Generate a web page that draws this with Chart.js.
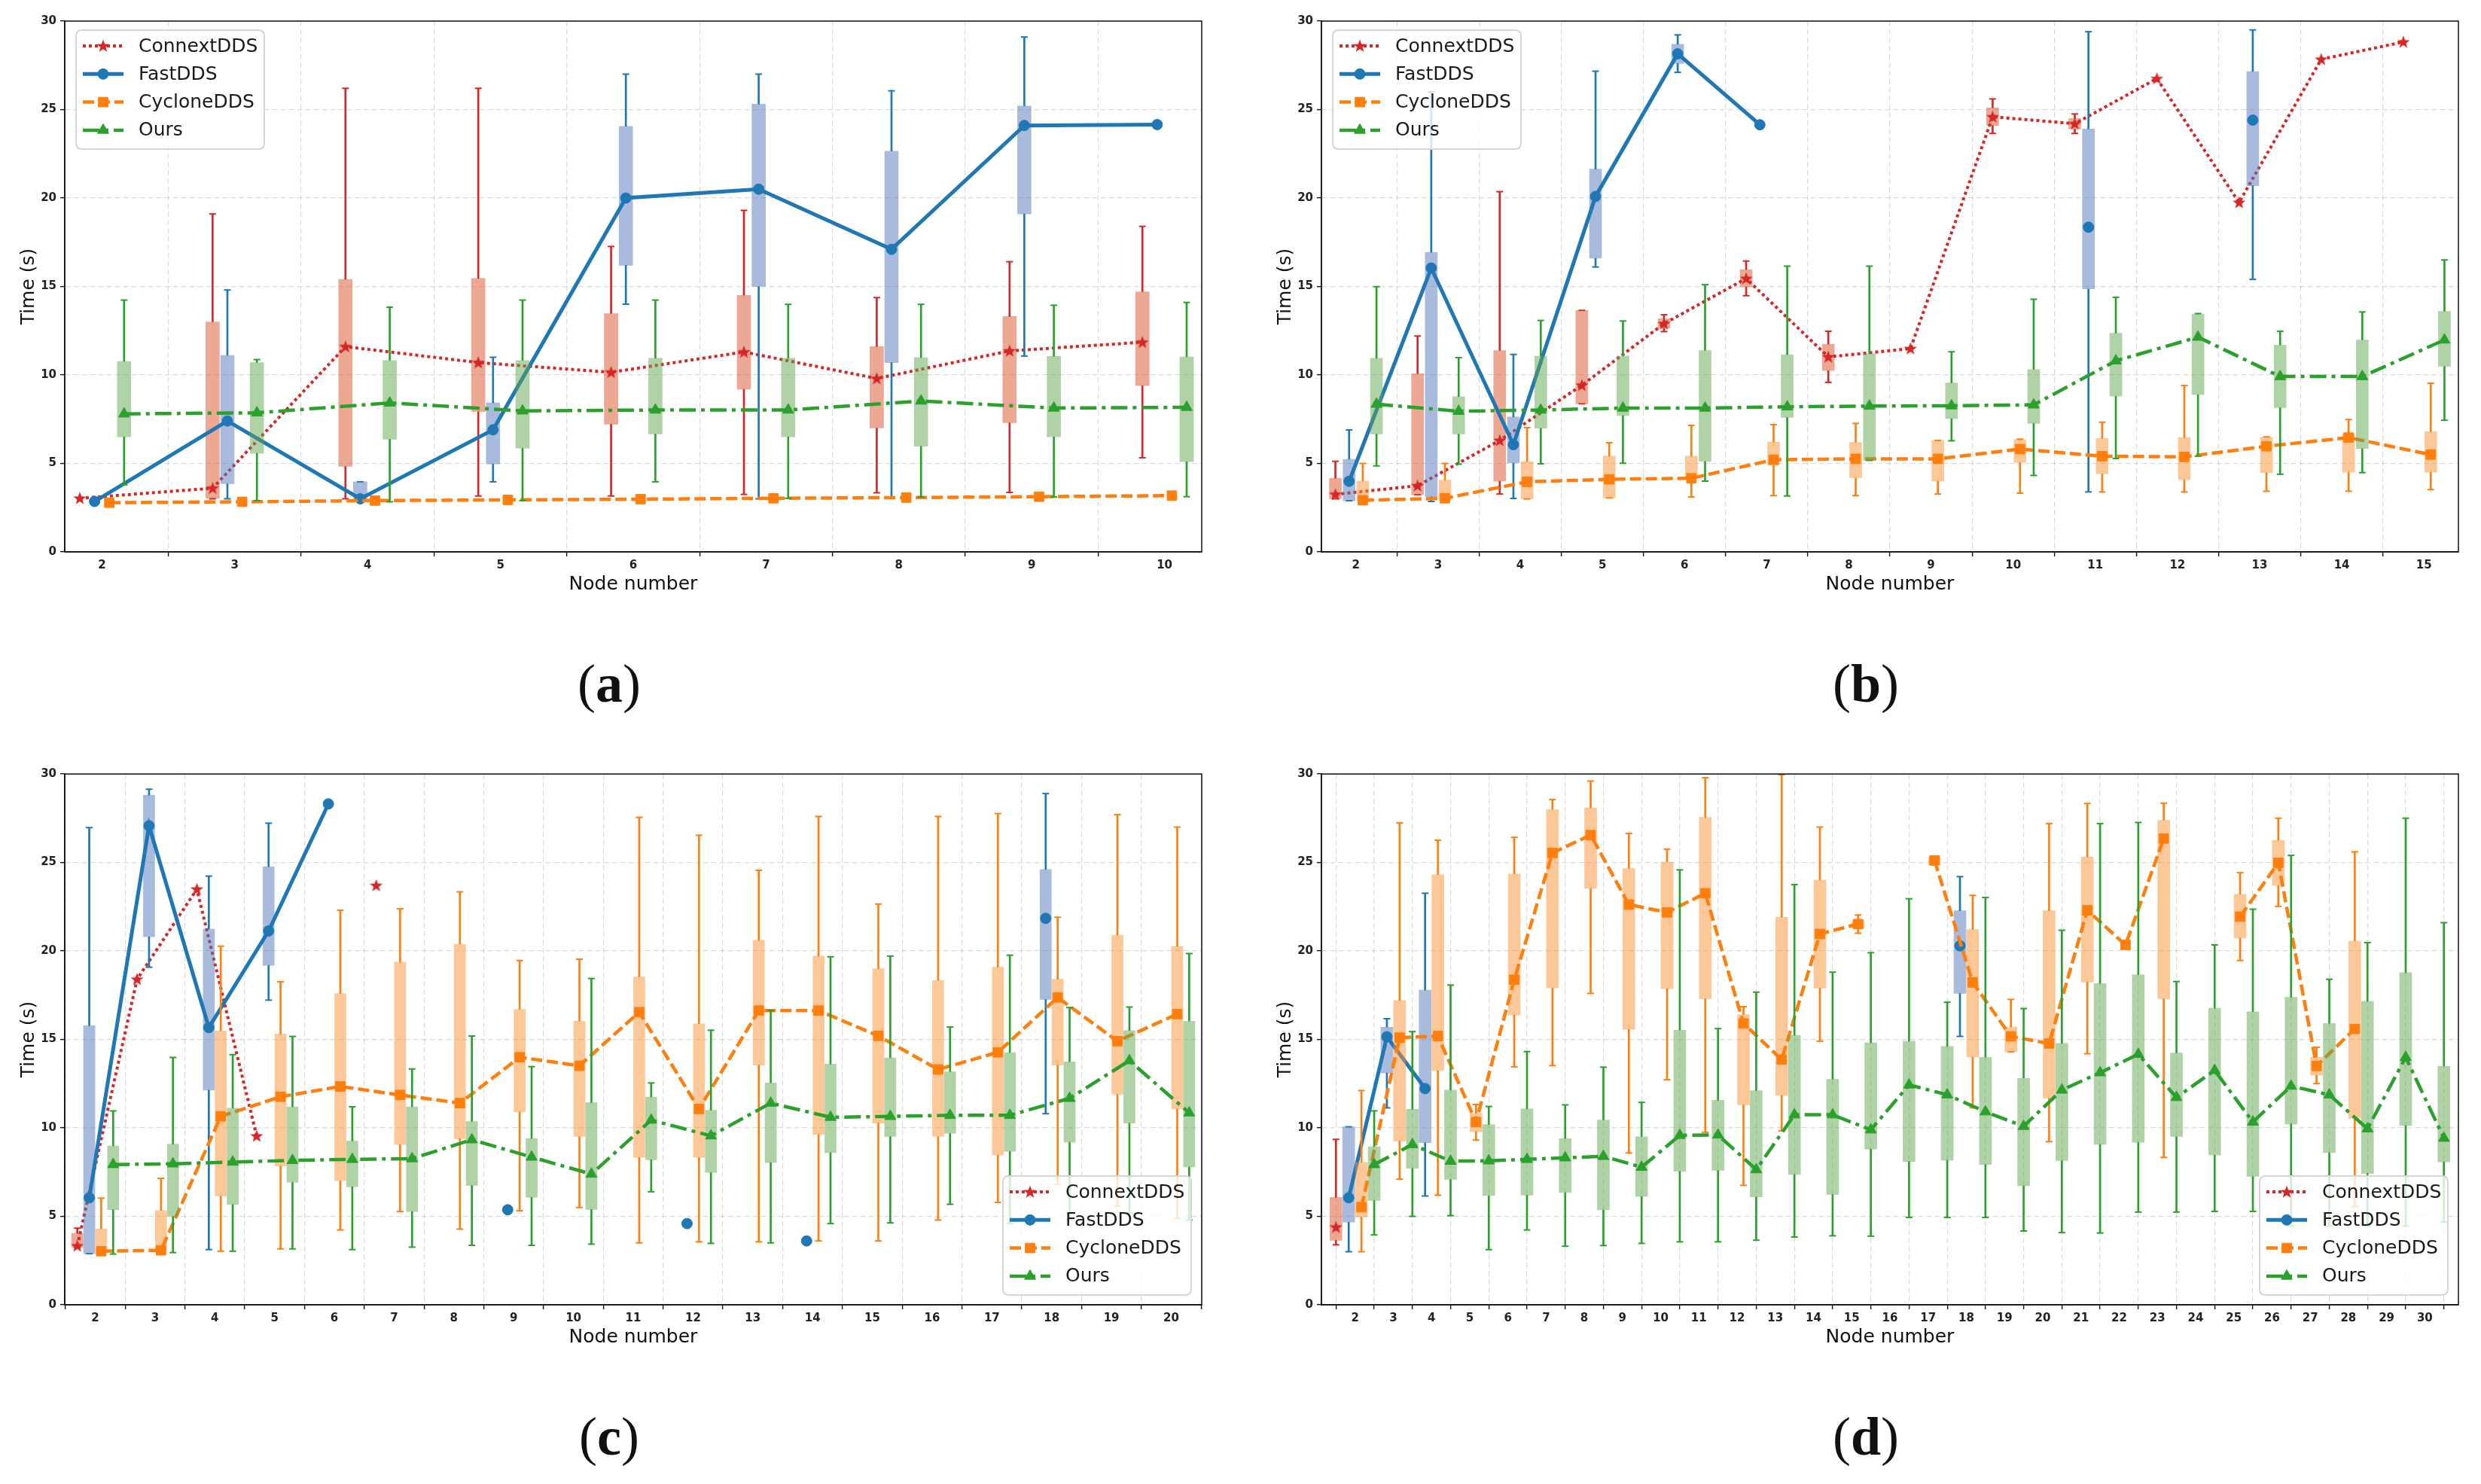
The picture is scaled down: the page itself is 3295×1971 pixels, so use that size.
<!DOCTYPE html>
<html>
<head>
<meta charset="utf-8">
<script src="https://cdn.jsdelivr.net/npm/chart.js@4.4.1/dist/chart.umd.min.js"></script>
<style>
html, body { margin: 0; padding: 0; background: #fff; overflow: hidden; }
body { width: 3295px; height: 1971px; position: relative; }
canvas.panel { position: absolute; }
.cap {
    position: absolute;
    transform: translateX(-50%);
    font-family: "Liberation Serif", serif;
    font-size: 72px;
    line-height: 72px;
    color: #111;
    white-space: nowrap;
}
</style>
</head>
<body>
<canvas id="chartA" class="panel" width="1620" height="830" style="left:0px;top:0px"></canvas>
<canvas id="chartB" class="panel" width="1620" height="830" style="left:1669px;top:0px"></canvas>
<canvas id="chartC" class="panel" width="1620" height="830" style="left:0px;top:1000px"></canvas>
<canvas id="chartD" class="panel" width="1620" height="830" style="left:1669px;top:1000px"></canvas>
<div class="cap" style="left:809px;top:872px">(<b>a</b>)</div>
<div class="cap" style="left:2478px;top:872px">(<b>b</b>)</div>
<div class="cap" style="left:809px;top:1872px">(<b>c</b>)</div>
<div class="cap" style="left:2478px;top:1872px">(<b>d</b>)</div>

<script>
/* datos: cada fila es [min, q1, mediana, q3, max]; null = sin dato */
var yTicks = [0, 5, 10, 15, 20, 25, 30];

var nodesA = [2, 3, 4, 5, 6, 7, 8, 9, 10];
var aConnext = [
    [null, null, 3.03, null, null],
    [3.0, 3.03, 3.6, 13.0, 19.1],
    [3.0, 4.83, 11.6, 15.4, 26.2],
    [3.16, 7.93, 10.7, 15.45, 26.2],
    [3.16, 7.22, 10.15, 13.47, 17.26],
    [3.25, 9.2, 11.3, 14.5, 19.3],
    [3.34, 7.0, 9.8, 11.6, 14.37],
    [3.36, 7.3, 11.36, 13.3, 16.4],
    [5.32, 9.4, 11.85, 14.7, 18.4]
];
var aFast = [
    [null, null, 2.85, null, null],
    [3.0, 3.85, 7.4, 11.1, 14.8],
    [3.0, 3.0, 3.0, 3.96, 3.96],
    [3.96, 4.97, 6.9, 8.42, 11.0],
    [14.0, 16.2, 20.0, 24.05, 27.0],
    [3.0, 15.0, 20.5, 25.3, 27.0],
    [3.1, 10.7, 17.1, 22.65, 26.06],
    [11.07, 19.1, 24.1, 25.2, 29.1],
    [null, null, 24.15, null, null]
];
var aCyclone = [
    [null, null, 2.78, null, null],
    [null, null, 2.83, null, null],
    [null, null, 2.9, null, null],
    [null, null, 2.94, null, null],
    [null, null, 2.98, null, null],
    [null, null, 3.03, null, null],
    [null, null, 3.07, null, null],
    [null, null, 3.12, null, null],
    [null, null, 3.18, null, null]
];
var aOurs = [
    [3.79, 6.5, 7.8, 10.76, 14.23],
    [2.9, 5.57, 7.86, 10.7, 10.87],
    [2.83, 6.37, 8.42, 10.82, 13.83],
    [2.9, 5.86, 7.97, 10.82, 14.23],
    [3.96, 6.66, 8.02, 10.94, 14.23],
    [3.03, 6.5, 8.02, 10.94, 13.99],
    [3.1, 5.97, 8.53, 10.98, 13.99],
    [3.1, 6.5, 8.13, 11.05, 13.94],
    [3.12, 5.1, 8.17, 11.02, 14.1]
];

var nodesB = [2, 3, 4, 5, 6, 7, 8, 9, 10, 11, 12, 13, 14, 15];
var bConnext = [
    [3.0, 3.0, 3.25, 4.16, 5.12],
    [3.23, 3.23, 3.74, 10.07, 12.2],
    [3.27, 4.0, 6.3, 11.38, 20.36],
    [8.37, 8.37, 9.42, 13.65, 13.65],
    [12.45, 12.65, 12.9, 13.18, 13.4],
    [14.48, 14.97, 15.45, 15.95, 16.44],
    [9.58, 10.25, 11.02, 11.74, 12.47],
    [null, null, 11.49, null, null],
    [23.65, 24.1, 24.59, 25.1, 25.6],
    [23.65, 23.9, 24.2, 24.5, 24.75],
    [null, null, 26.75, null, null],
    [null, null, 19.75, null, null],
    [null, null, 27.84, null, null],
    [null, null, 28.82, null, null]
];
var bFast = [
    [2.89, 2.89, 3.99, 5.23, 6.89],
    [2.85, 3.12, 16.04, 16.93, 26.0],
    [3.02, 5.02, 6.06, 7.62, 11.16],
    [16.1, 16.6, 20.09, 21.63, 27.17],
    [27.1, 27.6, 28.15, 28.69, 29.22],
    [null, null, 24.14, null, null],
    null,
    null,
    null,
    [3.39, 14.86, 18.35, 23.9, 29.4],
    null,
    [15.4, 20.7, 24.4, 27.15, 29.5],
    null,
    null
];
var bCyclone = [
    [2.9, 2.9, 2.92, 4.0, 5.0],
    [2.94, 2.94, 3.03, 4.06, 5.0],
    [2.99, 2.99, 3.96, 5.1, 7.02],
    [3.05, 3.05, 4.1, 5.41, 6.17],
    [3.1, 4.16, 4.16, 5.41, 7.15],
    [3.18, 4.9, 5.21, 6.21, 7.19],
    [3.18, 4.19, 5.26, 6.19, 7.26],
    [3.27, 4.0, 5.26, 6.3, 6.3],
    [3.32, 5.06, 5.81, 6.33, 6.37],
    [3.39, 4.41, 5.41, 6.41, 7.33],
    [3.39, 4.08, 5.37, 6.46, 9.4],
    [3.43, 4.48, 5.97, 6.48, 6.5],
    [3.43, 4.5, 6.46, 6.68, 7.48],
    [3.52, 4.5, 5.5, 6.79, 9.53]
];
var bOurs = [
    [4.86, 6.66, 8.35, 10.94, 14.99],
    [4.96, 6.66, 7.95, 8.77, 10.98],
    [4.98, 6.99, 8.02, 11.06, 13.08],
    [5.01, 7.71, 8.13, 11.07, 13.05],
    [4.0, 5.12, 8.13, 11.38, 15.1],
    [3.16, 7.6, 8.2, 11.14, 16.15],
    [5.17, 5.17, 8.24, 11.2, 16.15],
    [6.28, 7.53, 8.26, 9.55, 11.31],
    [4.32, 7.26, 8.31, 10.31, 14.28],
    [5.28, 8.8, 10.8, 12.36, 14.39],
    [5.41, 8.89, 12.14, 13.43, 13.47],
    [4.39, 8.15, 9.91, 11.69, 12.47],
    [4.48, 5.84, 9.91, 11.98, 13.56],
    [7.44, 10.49, 11.98, 13.59, 16.5]
];

var nodesC = [2, 3, 4, 5, 6, 7, 8, 9, 10, 11, 12, 13, 14, 15, 16, 17, 18, 19, 20];
var cConnext = [
    [3.24, 3.24, 3.33, 4.04, 4.33],
    [null, null, 18.4, null, null],
    [null, null, 23.49, null, null],
    [null, null, 9.54, null, null],
    null,
    [null, null, 23.7, null, null],
    null, null, null, null, null, null, null, null, null, null, null, null, null
];
var cFast = [
    [2.89, 2.89, 6.05, 15.77, 26.97],
    [19.08, 20.8, 27.07, 28.8, 29.14],
    [3.12, 12.13, 15.67, 21.23, 24.23],
    [17.22, 19.18, 21.13, 24.75, 27.22],
    [null, null, 28.31, null, null],
    null,
    null,
    [null, null, 5.37, null, null],
    null,
    null,
    [null, null, 4.59, null, null],
    null,
    [null, null, 3.61, null, null],
    null,
    null,
    null,
    [10.8, 17.26, 21.84, 24.6, 28.9],
    null,
    null
];
var cCyclone = [
    [2.89, 2.89, 3.03, 4.29, 6.03],
    [2.99, 2.99, 3.08, 5.33, 7.15],
    [3.03, 6.15, 10.65, 15.48, 20.27],
    [3.16, 7.84, 11.76, 15.3, 18.26],
    [4.23, 7.01, 12.34, 17.59, 22.3],
    [5.27, 9.06, 11.86, 19.37, 22.38],
    [4.28, 9.39, 11.4, 20.38, 23.34],
    [5.32, 10.91, 13.99, 16.7, 19.46],
    [5.5, 9.51, 13.51, 16.03, 19.53],
    [3.5, 8.33, 16.54, 18.53, 27.55],
    [3.56, 8.33, 11.07, 15.88, 26.54],
    [3.56, 13.55, 16.63, 20.6, 24.56],
    [3.61, 9.62, 16.63, 19.71, 27.6],
    [3.61, 10.27, 15.2, 19.0, 22.65],
    [4.79, 9.51, 13.3, 18.33, 27.6],
    [5.79, 8.47, 14.27, 19.08, 27.76],
    [6.8, 13.55, 17.37, 18.4, 21.9],
    [5.57, 11.9, 14.9, 20.89, 27.7],
    [4.88, 11.07, 16.43, 20.25, 27.0]
];
var cOurs = [
    [2.87, 5.38, 7.93, 8.98, 10.96],
    [2.95, 5.0, 7.97, 9.08, 13.98],
    [3.03, 5.67, 8.07, 11.11, 14.14],
    [3.16, 6.93, 8.16, 11.19, 15.17],
    [3.12, 6.67, 8.22, 9.25, 11.19],
    [3.26, 5.27, 8.26, 11.19, 13.33],
    [3.36, 6.75, 9.33, 10.36, 15.19],
    [3.36, 6.08, 8.35, 9.4, 13.46],
    [3.43, 5.39, 7.39, 11.42, 18.44],
    [6.39, 8.2, 10.44, 11.74, 12.54],
    [3.47, 7.48, 9.55, 11.0, 15.52],
    [3.5, 8.04, 11.4, 12.54, 16.63],
    [4.59, 8.6, 10.6, 13.6, 19.67],
    [4.63, 9.51, 10.65, 13.95, 19.71],
    [5.68, 9.69, 10.71, 13.17, 15.7],
    [4.6, 8.67, 10.71, 14.25, 19.76],
    [4.8, 9.19, 11.67, 13.73, 16.8],
    [5.19, 10.27, 13.8, 15.5, 16.83],
    [4.79, 7.79, 10.85, 16.03, 19.85]
];

var nodesD = [2, 3, 4, 5, 6, 7, 8, 9, 10, 11, 12, 13, 14, 15, 16, 17, 18, 19, 20,
              21, 22, 23, 24, 25, 26, 27, 28, 29, 30];
var dConnext = [
    [3.39, 3.64, 4.39, 6.07, 9.35],
    null, null, null, null, null, null, null, null, null, null, null, null, null, null,
    null, null, null, null, null, null, null, null, null, null, null, null, null, null
];
var dFast = [
    [3.0, 4.67, 6.05, 10.06, 10.06],
    [11.13, 13.1, 15.15, 15.69, 16.17],
    [6.15, 9.16, 12.22, 17.78, 23.26],
    null, null, null, null, null, null, null, null, null, null, null, null, null,
    [15.17, 17.6, 20.29, 22.27, 24.2],
    null, null, null, null, null, null, null, null, null, null, null, null
];
var dCyclone = [
    [3.0, 4.96, 5.52, 8.05, 12.11],
    [7.1, 9.25, 15.1, 17.2, 27.24],
    [6.19, 13.24, 15.19, 24.31, 26.26],
    [9.31, 9.79, 10.33, 10.82, 11.32],
    [13.45, 16.38, 18.37, 24.35, 26.42],
    [13.52, 17.91, 25.54, 27.99, 28.56],
    [17.6, 23.54, 26.55, 28.08, 29.6],
    [8.58, 15.57, 22.62, 24.65, 26.64],
    [12.72, 17.87, 22.18, 25.02, 25.75],
    [9.75, 17.3, 23.26, 27.55, 29.79],
    [6.75, 11.3, 15.9, 16.4, 16.85],
    [9.84, 11.83, 13.86, 21.9, 29.96],
    [14.9, 17.9, 20.96, 24.0, 27.0],
    [21.0, 21.27, 21.52, 21.7, 22.03],
    null,
    [24.85, 24.85, 25.12, 25.3, 25.3],
    [11.13, 14.0, 18.22, 21.21, 23.14],
    [14.3, 14.3, 15.17, 15.7, 17.26],
    [9.22, 11.67, 14.77, 22.27, 27.2],
    [14.19, 18.24, 22.3, 25.3, 28.33],
    [null, null, 20.34, null, null],
    [8.33, 17.3, 26.35, 27.38, 28.35],
    null,
    [19.46, 20.73, 21.94, 23.2, 24.42],
    [22.52, 23.7, 24.98, 26.25, 27.5],
    [12.5, 12.98, 13.5, 14.0, 14.55],
    [5.55, 10.54, 15.59, 20.55, 25.6],
    null,
    null
];
var dOurs = [
    [3.95, 5.9, 7.93, 8.93, 10.96],
    [5.0, 7.72, 9.06, 11.05, 15.44],
    [5.04, 7.09, 8.12, 12.13, 18.07],
    [3.12, 6.17, 8.14, 10.19, 11.21],
    [4.23, 6.2, 8.22, 11.07, 14.31],
    [3.31, 6.34, 8.31, 9.39, 11.3],
    [3.35, 5.36, 8.39, 10.44, 13.43],
    [3.47, 6.13, 7.78, 9.5, 11.44],
    [3.56, 7.55, 9.58, 15.52, 24.58],
    [3.56, 7.6, 9.6, 11.56, 15.61],
    [3.65, 6.1, 7.64, 12.1, 17.67],
    [3.83, 7.37, 10.74, 15.23, 23.75],
    [3.9, 6.24, 10.74, 12.74, 18.8],
    [3.88, 8.8, 9.89, 14.8, 19.9],
    [4.94, 8.1, 12.43, 14.9, 22.95],
    [4.94, 8.17, 11.87, 14.6, 17.1],
    [4.94, 7.93, 10.91, 13.99, 23.02],
    [4.17, 6.73, 10.09, 12.81, 16.74],
    [4.08, 8.15, 12.14, 14.77, 21.17],
    [4.06, 9.07, 13.12, 18.16, 27.2],
    [5.24, 9.18, 14.16, 18.66, 27.26],
    [5.24, 9.51, 11.72, 14.23, 18.27],
    [5.28, 8.47, 13.25, 16.76, 20.34],
    [5.28, 7.26, 10.33, 16.56, 22.36],
    [4.45, 10.22, 12.36, 17.38, 25.4],
    [4.45, 8.6, 11.87, 15.9, 18.4],
    [4.45, 7.42, 9.95, 17.15, 20.47],
    [4.45, 10.13, 13.99, 18.77, 27.5],
    [4.68, 8.08, 9.42, 13.49, 21.6]
];

/* estilos */
var FONT = "'DejaVu Sans', sans-serif";
Chart.defaults.font.family = FONT;

function starImage(color) {
    var c = document.createElement("canvas");
    c.width = 20;
    c.height = 20;
    var g = c.getContext("2d");
    g.fillStyle = color;
    g.beginPath();
    for (var i = 0; i < 10; i++) {
        var r = i % 2 === 0 ? 9 : 3.7;
        var a = -Math.PI / 2 + i * Math.PI / 5;
        var px = 10 + r * Math.cos(a), py = 10.5 + r * Math.sin(a);
        if (i === 0) g.moveTo(px, py); else g.lineTo(px, py);
    }
    g.closePath();
    g.fill();
    return c;
}

var SERIES = [
    {label: "ConnextDDS", color: "#d62728", box: "rgba(217, 81, 37, 0.5)",
     width: 4, dash: [4, 4], point: starImage("#d62728"), radius: 9},
    {label: "FastDDS", color: "#1f77b4", box: "rgba(81, 119, 187, 0.5)",
     width: 5, dash: [], point: "circle", radius: 7},
    {label: "CycloneDDS", color: "#ff7f0e", box: "rgba(251, 145, 49, 0.5)",
     width: 4.5, dash: [15, 6], point: "rect", radius: 9},
    {label: "Ours", color: "#2ca02c", box: "rgba(95, 165, 77, 0.5)",
     width: 4.5, dash: [22, 7, 5, 7], point: "triangle", radius: 8.5}
];

/* marco de los ejes */
var framePlugin = {
    id: "frame",
    afterDatasetsDraw: function (chart) {
        var a = chart.chartArea, ctx = chart.ctx;
        ctx.save();
        ctx.strokeStyle = "#111";
        ctx.lineWidth = 1.5;
        ctx.strokeRect(a.left, a.top, a.right - a.left, a.bottom - a.top);
        ctx.restore();
    }
};

/* leyenda dentro del área */
var legendPlugin = {
    id: "boxLegend",
    afterDraw: function (chart, args, opts) {
        var ctx = chart.ctx, a = chart.chartArea;
        var w = 250, h = 158;
        var x0 = opts.corner === "tl" ? a.left + 15 : a.right - 14 - w;
        var y0 = opts.corner === "tl" ? a.top + 12 : a.bottom - 13 - h;
        ctx.save();
        ctx.beginPath();
        var r = 8;
        ctx.moveTo(x0 + r, y0);
        ctx.lineTo(x0 + w - r, y0);
        ctx.quadraticCurveTo(x0 + w, y0, x0 + w, y0 + r);
        ctx.lineTo(x0 + w, y0 + h - r);
        ctx.quadraticCurveTo(x0 + w, y0 + h, x0 + w - r, y0 + h);
        ctx.lineTo(x0 + r, y0 + h);
        ctx.quadraticCurveTo(x0, y0 + h, x0, y0 + h - r);
        ctx.lineTo(x0, y0 + r);
        ctx.quadraticCurveTo(x0, y0, x0 + r, y0);
        ctx.closePath();
        ctx.fillStyle = "rgba(255, 255, 255, 0.8)";
        ctx.fill();
        ctx.strokeStyle = "#d6d6d6";
        ctx.lineWidth = 2;
        ctx.stroke();

        var lines = chart.data.datasets.filter(function (d) { return d.type === "line"; });
        lines.forEach(function (ds, i) {
            var y = y0 + 21 + i * 37.3;
            ctx.save();
            ctx.strokeStyle = ds.borderColor;
            ctx.lineWidth = ds.borderWidth;
            ctx.setLineDash(ds.borderDash);
            ctx.beginPath();
            ctx.moveTo(x0 + 9, y);
            ctx.lineTo(x0 + 63, y);
            ctx.stroke();
            ctx.restore();
            ctx.save();
            ctx.fillStyle = ds.borderColor;
            ctx.strokeStyle = ds.borderColor;
            ctx.lineWidth = 1;
            if (Chart.helpers && Chart.helpers.drawPoint) {
                Chart.helpers.drawPoint(ctx, {pointStyle: ds.pointStyle, radius: ds.pointRadius,
                    rotation: 0, borderWidth: 1}, x0 + 36, y);
            } else {
                ctx.beginPath();
                ctx.arc(x0 + 36, y, 7, 0, Math.PI * 2);
                ctx.fill();
            }
            ctx.restore();
            ctx.fillStyle = "#1a1a1a";
            ctx.font = "25px " + FONT;
            ctx.textBaseline = "middle";
            ctx.textAlign = "left";
            ctx.fillText(ds.label, x0 + 83, y + 1);
        });
        ctx.restore();
    }
};

function makePanel(id, nodes, rows, spacing, boxPx, xMin, xMax, corner) {
    var datasets = [];
    SERIES.forEach(function (s, i) {
        var off = (i - 1.5) * spacing;
        var whisk = [], caps = [], boxes = [], meds = [];
        nodes.forEach(function (n, j) {
            var r = rows[i][j];
            var x = n + off;
            if (!r) {
                meds.push({x: x, y: null});
                return;
            }
            meds.push({x: x, y: r[2]});
            if (r[0] === null) return;
            if (r[1] > r[0]) whisk.push({x: x, y: [r[0], r[1]]});
            if (r[4] > r[3]) whisk.push({x: x, y: [r[3], r[4]]});
            caps.push({x: x, y: r[0]});
            caps.push({x: x, y: r[4]});
            boxes.push({x: x, y: [r[1], r[3]]});
        });
        datasets.push({type: "bar", data: whisk, backgroundColor: s.color, borderWidth: 0,
            barThickness: 2, grouped: false});
        datasets.push({type: "scatter", data: caps, showLine: false, pointStyle: "line",
            pointRadius: 4.5, pointBorderColor: s.color, pointBorderWidth: 2});
        datasets.push({type: "bar", data: boxes, backgroundColor: s.box, borderWidth: 0,
            barThickness: boxPx, grouped: false});
        datasets.push({type: "line", label: s.label, data: meds, borderColor: s.color,
            borderWidth: s.width, borderDash: s.dash, spanGaps: false, tension: 0, fill: false,
            pointStyle: s.point, pointRadius: s.radius, pointBackgroundColor: s.color,
            pointBorderColor: s.color, pointBorderWidth: 1});
    });
    datasets.forEach(function (d, k) { d.order = datasets.length - k; });

    var config = {
        type: "scatter",
        data: {datasets: datasets},
        options: {
            responsive: false,
            animation: false,
            events: [],
            layout: {padding: {left: 0, right: 24, top: 28, bottom: 0}},
            plugins: {
                legend: {display: false},
                tooltip: {enabled: false},
                boxLegend: {corner: corner}
            },
            scales: {
                x: {
                    type: "linear",
                    min: xMin,
                    max: xMax,
                    offset: false,
                    afterBuildTicks: function (axis) {
                        axis.ticks = nodes.map(function (v) { return {value: v}; });
                    },
                    afterFit: function (axis) { axis.height = 97; },
                    grid: {color: "rgba(0, 0, 0, 0.14)", lineWidth: 1.2, tickLength: 6,
                           tickColor: "#111", tickWidth: 1.4},
                    border: {color: "#111", width: 1.5, dash: [7, 4]},
                    ticks: {font: {size: 15, weight: "bold"}, color: "#222", padding: 3,
                            autoSkip: false, maxRotation: 0},
                    title: {display: true, text: "Node number", font: {size: 25}, color: "#111",
                            padding: {top: 0, bottom: 39}}
                },
                y: {
                    type: "linear",
                    min: 0,
                    max: 30,
                    afterBuildTicks: function (axis) {
                        axis.ticks = yTicks.map(function (v) { return {value: v}; });
                    },
                    afterFit: function (axis) { axis.width = 86; },
                    grid: {color: "rgba(0, 0, 0, 0.14)", lineWidth: 1.2, tickLength: 6,
                           tickColor: "#111", tickWidth: 1.4},
                    border: {color: "#111", width: 1.5, dash: [7, 4]},
                    ticks: {font: {size: 15, weight: "bold"}, color: "#222", padding: 5},
                    title: {display: true, text: "Time (s)", font: {size: 25}, color: "#111",
                            padding: {top: 23, bottom: 0}}
                }
            }
        },
        plugins: [framePlugin, legendPlugin]
    };
    new Chart(document.getElementById(id).getContext("2d"), config);
}

makePanel("chartA", nodesA, [aConnext, aFast, aCyclone, aOurs], 1 / 9, 18, 1.72, 10.28, "tl");
makePanel("chartB", nodesB, [bConnext, bFast, bCyclone, bOurs], 1 / 6, 16, 1.58, 15.42, "tl");
makePanel("chartC", nodesC, [cConnext, cFast, cCyclone, cOurs], 0.2, 15, 1.49, 20.51, "br");
makePanel("chartD", nodesD, [dConnext, dFast, dCyclone, dOurs], 1 / 3, 16, 1.12, 30.88, "br");
</script>
</body>
</html>
